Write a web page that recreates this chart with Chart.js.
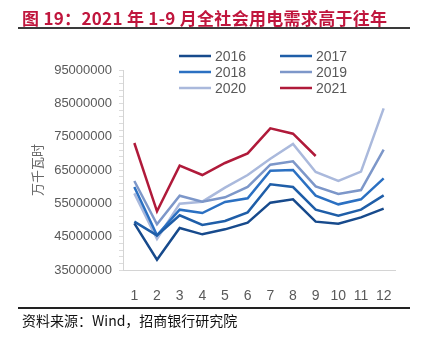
<!DOCTYPE html>
<html><head><meta charset="utf-8">
<script src="https://cdn.jsdelivr.net/npm/chart.js@4.4.1/dist/chart.umd.min.js"></script>
<style>
html,body{margin:0;padding:0;background:#fff;}
#wrap{position:relative;width:423px;height:337px;overflow:hidden;}
#c{position:absolute;left:0;top:0;}
#title{position:absolute;left:22px;top:5px;font:bold 17px "Noto Sans CJK SC",sans-serif;color:#c0163d;white-space:nowrap;letter-spacing:0.3px;}
#tline{position:absolute;left:18px;top:27px;width:392px;height:2px;background:#3a3a3a;}
#bline{position:absolute;left:18px;top:307px;width:392px;height:1.5px;background:#222;}
#src{position:absolute;left:22px;top:310px;font:14px "Noto Sans CJK SC",sans-serif;color:#111;white-space:nowrap;}
</style></head>
<body><div id="wrap">
<canvas id="c" width="423" height="337"></canvas>
<div id="title">图 19：2021 年 1-9 月全社会用电需求高于往年</div>
<div id="tline"></div>
<div id="bline"></div>
<div id="src">资料来源：Wind，招商银行研究院</div>
</div>
<script>
const months = ['1','2','3','4','5','6','7','8','9','10','11','12'];
const seriesNames = ['2016','2017','2018','2019','2020','2021'];
const s2016 = [49.0,38.1,47.6,45.7,47.2,49.2,55.2,56.2,49.5,48.9,50.8,53.4].map(v=>v*1e6);
const s2017 = [49.5,45.4,51.4,48.5,49.7,52.3,60.7,59.9,53.1,51.3,53.1,57.4].map(v=>v*1e6);
const s2018 = [59.9,45.4,53.1,52.1,55.4,56.5,64.8,65.0,57.3,54.7,56.2,62.5].map(v=>v*1e6);
const s2019 = [61.7,48.7,57.3,55.5,56.8,59.9,66.6,67.6,60.1,57.8,59.0,71.1].map(v=>v*1e6);
const s2020 = [58.0,44.3,54.9,55.5,59.7,63.5,68.4,72.8,64.4,61.7,64.5,83.5].map(v=>v*1e6);
const s2021 = [73.1,52.6,66.3,63.5,67.1,70.0,77.5,75.9,69.2].map(v=>v*1e6);
const colors = ['#174a8c','#1f5ea8','#2b70c2','#7d97c9','#aab9dc','#b01a3a'];
const allSeries = [s2016,s2017,s2018,s2019,s2020,s2021];

const legendPlugin = {
  id:'twoColLegend',
  afterDraw(chart){
    const ctx = chart.ctx;
    ctx.save();
    chart.data.datasets.forEach((ds,i)=>{
      const col = i%2, row = Math.floor(i/2);
      const x0 = col===0 ? 179 : 280;
      const y = 56 + row*16;
      ctx.strokeStyle = ds.borderColor;
      ctx.lineWidth = 2.5;
      ctx.beginPath(); ctx.moveTo(x0,y); ctx.lineTo(x0+32,y); ctx.stroke();
      ctx.fillStyle = '#595959';
      ctx.font = '14px "Liberation Sans", Arial, sans-serif';
      ctx.textBaseline = 'middle';
      ctx.fillText(ds.label, x0+36, y+1);
    });
    ctx.restore();
  }
};

new Chart(document.getElementById('c'), {
  type:'line',
  data:{
    labels: months,
    datasets: allSeries.map((d,i)=>({
      label: seriesNames[i], data: d, borderColor: colors[i], backgroundColor: colors[i],
      borderWidth: 2.5, pointRadius: 0, tension: 0, fill:false
    }))
  },
  options:{
    responsive:false, animation:false,
    layout:{padding:{top:70,right:28,bottom:37,left:0}},
    plugins:{legend:{display:false},tooltip:{enabled:false}},
    scales:{
      x:{
        offset:true,
        grid:{display:false},
        border:{display:true,color:'#d4d4d4',width:1},
        ticks:{color:'#595959',font:{family:'"Liberation Sans", Arial, sans-serif',size:14},padding:10,maxRotation:0,autoSkip:false},
        afterFit(s){ s.height = 30; }
      },
      y:{
        min:35000000, max:95000000,
        ticks:{stepSize:2000000,autoSkip:false,color:'#595959',padding:7,
          font:{family:'"Liberation Sans", Arial, sans-serif',size:13},
          callback(v){ return ((v-35000000)%10000000===0) ? String(v) : ''; }},
        grid:{display:true,drawOnChartArea:false,drawTicks:true,tickLength:4,color:'#dcdcdc'},
        border:{display:true,color:'#d4d4d4',width:1},
        title:{display:true,text:'万千瓦时',color:'#666',font:{family:'"Noto Sans CJK SC", sans-serif',size:13},padding:{top:29,bottom:0}},
        afterFit(s){ s.width = 123; }
      }
    }
  },
  plugins:[legendPlugin]
});
</script>
</body></html>
